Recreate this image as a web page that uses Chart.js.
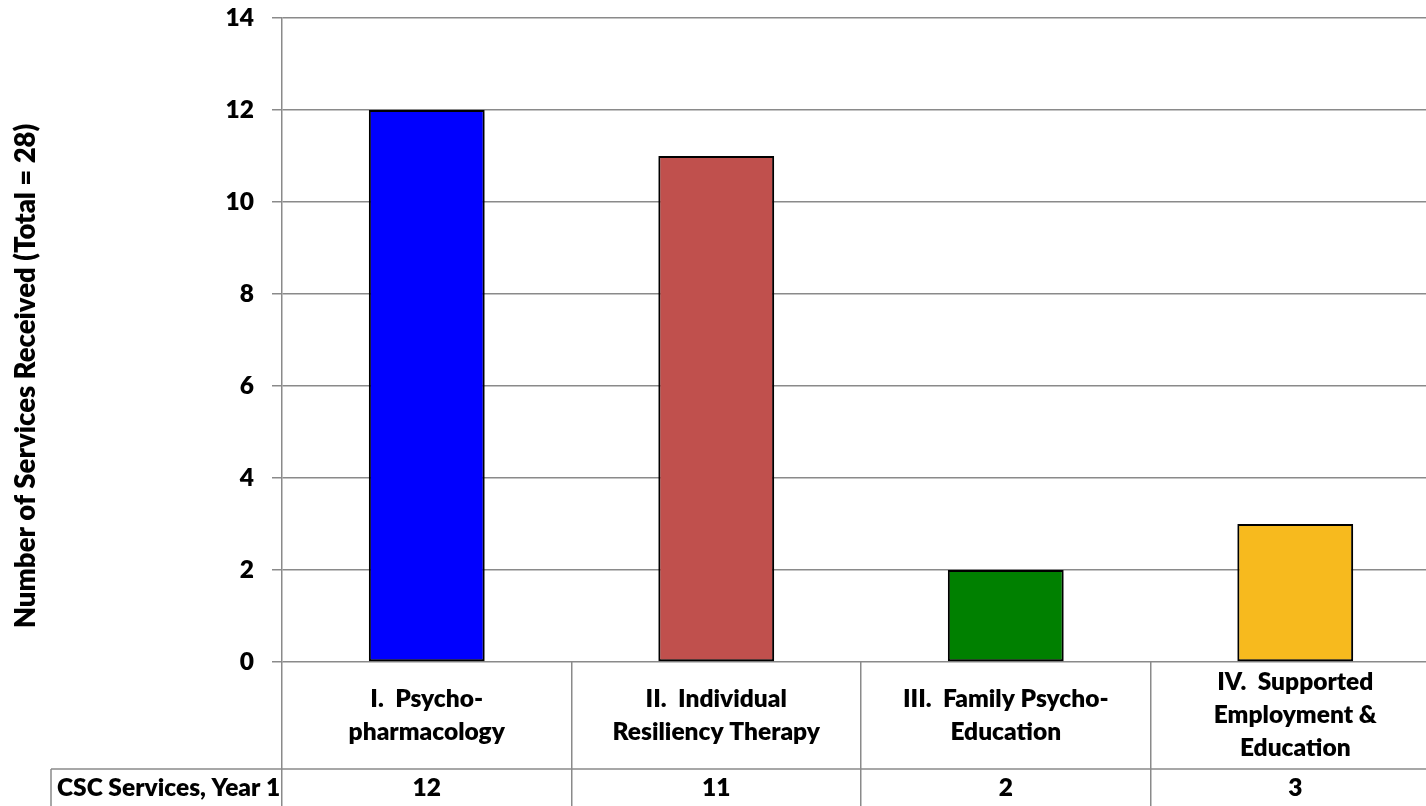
<!DOCTYPE html>
<html>
<head>
<meta charset="utf-8">
<script src="https://cdn.jsdelivr.net/npm/chart.js@4/dist/chart.umd.min.js"></script>
<style>
  html, body { margin: 0; padding: 0; background: #ffffff; overflow: hidden; }
  #wrap { position: relative; width: 1441px; height: 806px; }
</style>
</head>
<body>
<div id="wrap"><canvas id="chart"></canvas></div>
<script>
// Service categories (multi-line labels), counts per service and colours
const categories = [
  ['I.  Psycho-', 'pharmacology'],
  ['II.  Individual', 'Resiliency Therapy'],
  ['III.  Family Psycho-', 'Education'],
  ['IV.  Supported', 'Employment &', 'Education']
];
const serviceCounts = [12, 11, 2, 3];
const barColors = ['#0000FF', '#C0504D', '#008000', '#F7BA1E'];
const seriesName = 'CSC Services, Year 1';
const axisTitle = 'Number of Services Received (Total = 28)';
const yMin = 0;
const yMax = 14;
const yStep = 2;

const FONT = 'Lato, "Liberation Sans", sans-serif';
const FONT_SIZE = 24.5;
const TITLE_SIZE = 27.5;
const WEIGHT = '800';
const GRID = '#8a8a8a';

Chart.defaults.font.family = FONT;
Chart.defaults.font.size = FONT_SIZE;
Chart.defaults.font.weight = WEIGHT;
Chart.defaults.color = '#000000';

// soft drop shadow behind the bars
const barShadow = {
  id: 'barShadow',
  beforeDatasetsDraw(chart) {
    const ctx = chart.ctx;
    ctx.save();
    ctx.shadowColor = 'rgba(0,0,0,0.35)';
    ctx.shadowBlur = 5;
    ctx.shadowOffsetX = 1;
    ctx.shadowOffsetY = 1;
  },
  afterDatasetsDraw(chart) {
    chart.ctx.restore();
  }
};

// data table under the plot: category row, value row and the axis title
const dataTable = {
  id: 'dataTable',
  afterDraw(chart) {
    const { ctx, chartArea, scales: { x } } = chart;
    const top = chartArea.bottom;
    const labelRowBottom = top + 107;
    const valueRowBottom = labelRowBottom + 38;
    const tableLeft = 51;

    ctx.save();
    ctx.strokeStyle = GRID;
    ctx.lineWidth = 1.5;
    ctx.beginPath();
    ctx.moveTo(tableLeft, labelRowBottom);
    ctx.lineTo(x.right, labelRowBottom);
    ctx.moveTo(tableLeft, labelRowBottom);
    ctx.lineTo(tableLeft, valueRowBottom + 4);
    ctx.stroke();

    ctx.fillStyle = '#000000';
    ctx.font = `${WEIGHT} ${FONT_SIZE}px ${FONT}`;
    ctx.textAlign = 'center';
    ctx.textBaseline = 'middle';
    const lineHeight = 33;
    const labelMid = (top + labelRowBottom) / 2;
    const valueMid = (labelRowBottom + valueRowBottom) / 2;
    categories.forEach((lines, i) => {
      const cx = x.getPixelForValue(i);
      const y0 = labelMid - (lines.length - 1) * lineHeight / 2;
      lines.forEach((t, j) => ctx.fillText(t, cx, y0 + j * lineHeight));
      ctx.fillText(String(serviceCounts[i]), cx, valueMid);
    });

    ctx.textAlign = 'left';
    ctx.fillText(seriesName, tableLeft + 6, valueMid);

    ctx.font = `${WEIGHT} ${TITLE_SIZE}px ${FONT}`;
    ctx.translate(26, 376);
    ctx.rotate(-Math.PI / 2);
    ctx.textAlign = 'center';
    ctx.fillText(axisTitle, 0, 0);
    ctx.restore();
  }
};

new Chart(document.getElementById('chart'), {
  type: 'bar',
  data: {
    labels: categories,
    datasets: [{
      label: seriesName,
      data: serviceCounts,
      backgroundColor: barColors,
      borderColor: '#000000',
      borderWidth: 2,
      borderSkipped: false,
      categoryPercentage: 1.0,
      barPercentage: 0.4
    }]
  },
  options: {
    responsive: true,
    maintainAspectRatio: false,
    animation: false,
    layout: { padding: { top: 18, right: 1, left: 0, bottom: 0 } },
    plugins: {
      legend: { display: false },
      tooltip: { enabled: false },
      title: { display: false }
    },
    scales: {
      x: {
        offset: true,
        ticks: { display: false },
        grid: {
          display: true,
          offset: true,
          drawOnChartArea: false,
          drawTicks: true,
          tickLength: 150,
          color: GRID,
          lineWidth: 1.5
        },
        border: { display: false },
        afterFit(scale) { scale.height = 144; }
      },
      y: {
        min: yMin,
        max: yMax,
        ticks: { stepSize: yStep, padding: 18 },
        grid: {
          color: GRID,
          lineWidth: 1.5,
          tickLength: 10,
          drawTicks: true
        },
        border: { display: true, color: GRID, width: 1.5 },
        afterFit(scale) {
          scale.width = 282;
          // tick labels may spill into the outer margin
          scale.paddingTop = 0;
          scale.paddingBottom = 0;
        }
      }
    }
  },
  plugins: [barShadow, dataTable]
});
</script>
</body>
</html>
